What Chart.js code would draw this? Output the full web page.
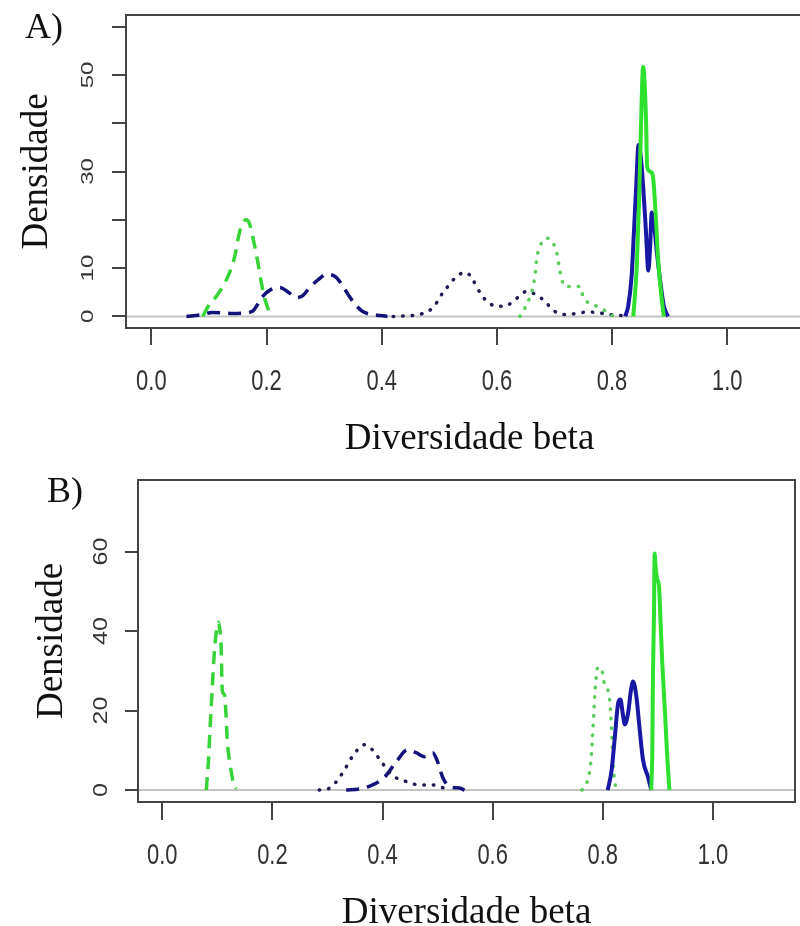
<!DOCTYPE html>
<html>
<head>
<meta charset="utf-8">
<script src="https://cdn.jsdelivr.net/npm/chart.js@4.4.1/dist/chart.umd.min.js"></script>
<style>
html, body { margin: 0; padding: 0; background: #fff; width: 800px; height: 926px; overflow: hidden; }
canvas { position: absolute; left: 0; }
#panelA { top: 0; }
#panelB { top: 463px; }
</style>
</head>
<body>
<canvas id="panelA" width="830" height="463"></canvas>
<canvas id="panelB" width="800" height="463"></canvas>
<script>
// axis ticks (same xlim in both panels)
var xTicks = [0, 0.2, 0.4, 0.6, 0.8, 1.0];
var xTickLabels = ["0.0", "0.2", "0.4", "0.6", "0.8", "1.0"];
var aYTicks = [0, 10, 20, 30, 40, 50, 60];
var aYTickLabels = [0, 10, 30, 50];
var bYTicks = [0, 20, 40, 60];
var bYTickLabels = [0, 20, 40, 60];
var xTitle = "Diversidade beta";
var yTitle = "Densidade";

// panel A) densities
var aNavyDashX = [0.061, 0.085, 0.106, 0.125, 0.141, 0.160, 0.176, 0.193, 0.208, 0.223, 0.238, 0.252, 0.263, 0.275, 0.290, 0.304, 0.321, 0.333, 0.344, 0.356, 0.367, 0.382, 0.397, 0.410];
var aNavyDashY = [0, 0.3, 0.8, 0.7, 0.6, 0.7, 1.1, 4.1, 5.6, 6.0, 5.0, 3.9, 4.3, 6.0, 7.6, 8.7, 8.1, 6.2, 4.1, 2.2, 1.0, 0.4, 0.2, 0];
var aGreenDashX = [0.089, 0.101, 0.112, 0.124, 0.136, 0.145, 0.153, 0.160, 0.165, 0.171, 0.176, 0.184, 0.191, 0.196, 0.203, 0.209];
var aGreenDashY = [0, 2.5, 4.0, 6.2, 9.1, 12.5, 17.4, 19.6, 20.0, 19.0, 16.5, 11.8, 7.0, 4.1, 1.5, 0];
var aNavyDotX = [0.420, 0.454, 0.471, 0.487, 0.497, 0.506, 0.518, 0.530, 0.547, 0.558, 0.573, 0.585, 0.600, 0.614, 0.628, 0.640, 0.652, 0.663, 0.680, 0.701, 0.718, 0.739, 0.756, 0.776, 0.793, 0.814, 0.824];
var aNavyDotY = [0, 0.2, 0.6, 1.6, 3.1, 4.9, 6.6, 8.3, 9.1, 7.6, 4.5, 2.9, 2.1, 2.1, 3.1, 4.3, 5.2, 4.8, 3.5, 1.0, 0.4, 0.6, 0.9, 0.8, 0.4, 0.2, 0];
var aGreenDotX = [0.640, 0.649, 0.657, 0.663, 0.666, 0.669, 0.675, 0.682, 0.689, 0.696, 0.704, 0.710, 0.718, 0.730, 0.744, 0.750, 0.758, 0.774, 0.785, 0.797, 0.803];
var aGreenDotY = [0, 1.8, 3.9, 6.2, 8.3, 11.8, 14.5, 15.9, 16.2, 15.5, 13.2, 9.1, 6.2, 6.2, 6.2, 4.1, 2.9, 2.1, 1.4, 0.4, 0];
var aNavyX = [0.823, 0.828, 0.834, 0.838, 0.842, 0.846, 0.850, 0.854, 0.859, 0.863, 0.866, 0.869, 0.872, 0.878, 0.884, 0.890, 0.897];
var aNavyY = [0, 2.1, 8.3, 17.4, 27, 35.5, 33, 27, 17.4, 9.5, 14, 21.5, 20, 13.2, 7, 2.1, 0];
var aGreenX = [0.837, 0.843, 0.847, 0.850, 0.854, 0.859, 0.861, 0.866, 0.871, 0.876, 0.880, 0.885, 0.890];
var aGreenY = [0, 10.4, 24, 38, 51.7, 41, 31, 30, 29, 20.7, 11.8, 5, 0];

// panel B) densities
var bGreenDashX = [0.080, 0.084, 0.087, 0.091, 0.095, 0.099, 0.102, 0.105, 0.107, 0.109, 0.113, 0.116, 0.118, 0.124, 0.129, 0.134];
var bGreenDashY = [0, 7.6, 16, 26, 35.4, 40.5, 42.2, 40, 36, 25, 24, 18.5, 12.7, 5.8, 2, 0.3];
var bNavyDotX = [0.285, 0.304, 0.327, 0.345, 0.358, 0.367, 0.382, 0.398, 0.418, 0.444, 0.467, 0.491, 0.505, 0.516];
var bNavyDotY = [0, 0.5, 4.2, 8.4, 10.6, 11.4, 10.1, 7.1, 3.7, 2.1, 1.3, 1.3, 0.8, 0.3];
var bNavyDashX = [0.334, 0.358, 0.382, 0.404, 0.425, 0.445, 0.461, 0.476, 0.491, 0.500, 0.509, 0.522, 0.540, 0.549];
var bNavyDashY = [0, 0.3, 1.3, 3.3, 7.1, 10.1, 9.4, 8.4, 9.4, 7.1, 3.3, 0.8, 0.5, 0];
var bGreenDotX = [0.762, 0.771, 0.778, 0.781, 0.784, 0.787, 0.791, 0.798, 0.802, 0.807, 0.813, 0.816, 0.818, 0.822, 0.825];
var bGreenDotY = [0, 1.8, 6.8, 12.7, 20.3, 27, 30.9, 30.4, 27.3, 26, 22, 15.2, 8.4, 1.8, 0.5];
var bNavyX = [0.809, 0.816, 0.822, 0.828, 0.832, 0.836, 0.840, 0.846, 0.851, 0.855, 0.861, 0.867, 0.873, 0.882, 0.888];
var bNavyY = [0, 5, 13.5, 22, 22.8, 19.5, 16.5, 19.4, 25, 27.3, 23.5, 15.2, 7.6, 3.3, 0];
var bGreenX = [0.888, 0.890, 0.891, 0.893, 0.894, 0.896, 0.899, 0.902, 0.905, 0.908, 0.913, 0.917, 0.921];
var bGreenY = [0, 11, 28, 44.8, 59.5, 56, 53, 51.4, 42, 32, 19.4, 8.4, 0];

var GREEN = "#2fe02f", GREEN_DASH = "#36d436", GREEN_DOT = "#5ccc5c";
var NAVY = "#1818a4", NAVY_DASH = "#12127a", NAVY_DOT = "#1c1c52";

function pts(xs, ys) {
    return xs.map(function (x, i) { return { x: x, y: ys[i] }; });
}

function series(xs, ys, color, kind, order) {
    var ds = { data: pts(xs, ys), borderColor: color, pointRadius: 0, fill: false, cubicInterpolationMode: "monotone", order: order, borderWidth: 4 };
    if (kind == "dash") (ds.borderWidth = 3.5), (ds.borderDash = [13, 8]);
    if (kind == "dot") (ds.borderWidth = 3.5), (ds.borderDash = [0.5, 9]), (ds.borderCapStyle = "round");
    return ds;
}

function drawText(ctx, txt, x, y, font, rot, sx, sy, color) {
    ctx.save();
    ctx.translate(x, y);
    ctx.rotate(rot);
    ctx.scale(sx, sy);
    ctx.font = font;
    ctx.fillStyle = color;
    ctx.textAlign = "center";
    ctx.textBaseline = "alphabetic";
    ctx.fillText(txt, 0, 0);
    ctx.restore();
}

// R-like decorations: zero line, box, labels
var rPlot = {
    id: "rPlot",
    beforeDatasetsDraw(chart) {
        var ctx = chart.ctx, a = chart.chartArea, y0 = chart.scales.y.getPixelForValue(0);
        ctx.save();
        ctx.strokeStyle = "#c4c4c4";
        ctx.lineWidth = 2;
        ctx.beginPath();
        ctx.moveTo(a.left, y0);
        ctx.lineTo(a.right, y0);
        ctx.stroke();
        ctx.restore();
    },
    afterDraw(chart, args, o) {
        var ctx = chart.ctx, a = chart.chartArea, sx = chart.scales.x, sy = chart.scales.y;
        ctx.save();
        ctx.strokeStyle = "#444";
        ctx.lineWidth = 2;
        ctx.strokeRect(a.left, a.top, a.right - a.left, a.bottom - a.top);
        ctx.restore();
        xTicks.forEach(function (v, i) {
            drawText(ctx, xTickLabels[i], sx.getPixelForValue(v), a.bottom + 62, '30px "Liberation Sans"', 0, 0.73, 1, "#333");
        });
        o.yLabels.forEach(function (v) {
            drawText(ctx, String(v), a.left - o.yLabOff, sy.getPixelForValue(v), o.yFont, -Math.PI / 2, 1, o.ySquash, "#333");
        });
        drawText(ctx, yTitle, o.yTitleX, (a.top + a.bottom) / 2, '37px "Liberation Serif"', -Math.PI / 2, 1, 1, "#111");
        drawText(ctx, xTitle, (a.left + a.right) / 2, a.bottom + 121, '37px "Liberation Serif"', 0, 1, 1, "#111");
        drawText(ctx, o.letter, o.letterX, o.letterY, '36px "Liberation Serif"', 0, 1, 1, "#111");
    },
};

function panel(id, p) {
    return new Chart(document.getElementById(id), {
        type: "line",
        data: { datasets: p.datasets },
        options: {
            responsive: false,
            animation: false,
            events: [],
            layout: { padding: p.pad },
            plugins: { legend: { display: false }, tooltip: { enabled: false }, rPlot: p.text },
            scales: {
                x: {
                    type: "linear", min: -0.044, max: 1.149,
                    afterBuildTicks: function (s) { s.ticks = xTicks.map(function (v) { return { value: v }; }); },
                    afterFit: function (s) { s.height = p.xH; },
                    ticks: { display: false },
                    grid: { drawOnChartArea: false, tickLength: p.xTickLen, color: "#444", lineWidth: 2 },
                    border: { display: false },
                },
                y: {
                    type: "linear", min: p.yMin, max: p.yMax,
                    afterBuildTicks: function (s) { s.ticks = p.yTicks.map(function (v) { return { value: v }; }); },
                    afterFit: function (s) { s.width = p.yW; },
                    ticks: { display: false },
                    grid: { drawOnChartArea: false, tickLength: p.yTickLen, color: "#444", lineWidth: 2 },
                    border: { display: false },
                },
            },
        },
        plugins: [rPlot],
    });
}

panel("panelA", {
    datasets: [
        series(aGreenX, aGreenY, GREEN, "solid", 0),
        series(aNavyX, aNavyY, NAVY, "solid", 1),
        series(aGreenDotX, aGreenDotY, GREEN_DOT, "dot", 2),
        series(aNavyDotX, aNavyDotY, NAVY_DOT, "dot", 3),
        series(aGreenDashX, aGreenDashY, GREEN_DASH, "dash", 4),
        series(aNavyDashX, aNavyDashY, NAVY_DASH, "dash", 5),
    ],
    pad: { left: 0, top: 15, right: 17, bottom: 0 },
    xH: 135, yW: 126, xTickLen: 17, yTickLen: 14,
    yMin: -2.4, yMax: 62.4, yTicks: aYTicks,
    text: { yLabels: aYTickLabels, yLabOff: 33, yFont: '24px "Liberation Sans"', ySquash: 0.7, yTitleX: 47, letter: "A)", letterX: 44, letterY: 38 },
});

panel("panelB", {
    datasets: [
        series(bGreenX, bGreenY, GREEN, "solid", 0),
        series(bNavyX, bNavyY, NAVY, "solid", 1),
        series(bGreenDotX, bGreenDotY, GREEN_DOT, "dot", 2),
        series(bNavyDotX, bNavyDotY, NAVY_DOT, "dot", 3),
        series(bGreenDashX, bGreenDashY, GREEN_DASH, "dash", 4),
        series(bNavyDashX, bNavyDashY, NAVY_DASH, "dash", 5),
    ],
    pad: { left: 0, top: 17, right: 5, bottom: 0 },
    xH: 124, yW: 138, xTickLen: 18, yTickLen: 13,
    yMin: -3, yMax: 78, yTicks: bYTicks,
    text: { yLabels: bYTickLabels, yLabOff: 31, yFont: '25px "Liberation Sans"', ySquash: 0.84, yTitleX: 62, letter: "B)", letterX: 65, letterY: 39 },
});
</script>
</body>
</html>
